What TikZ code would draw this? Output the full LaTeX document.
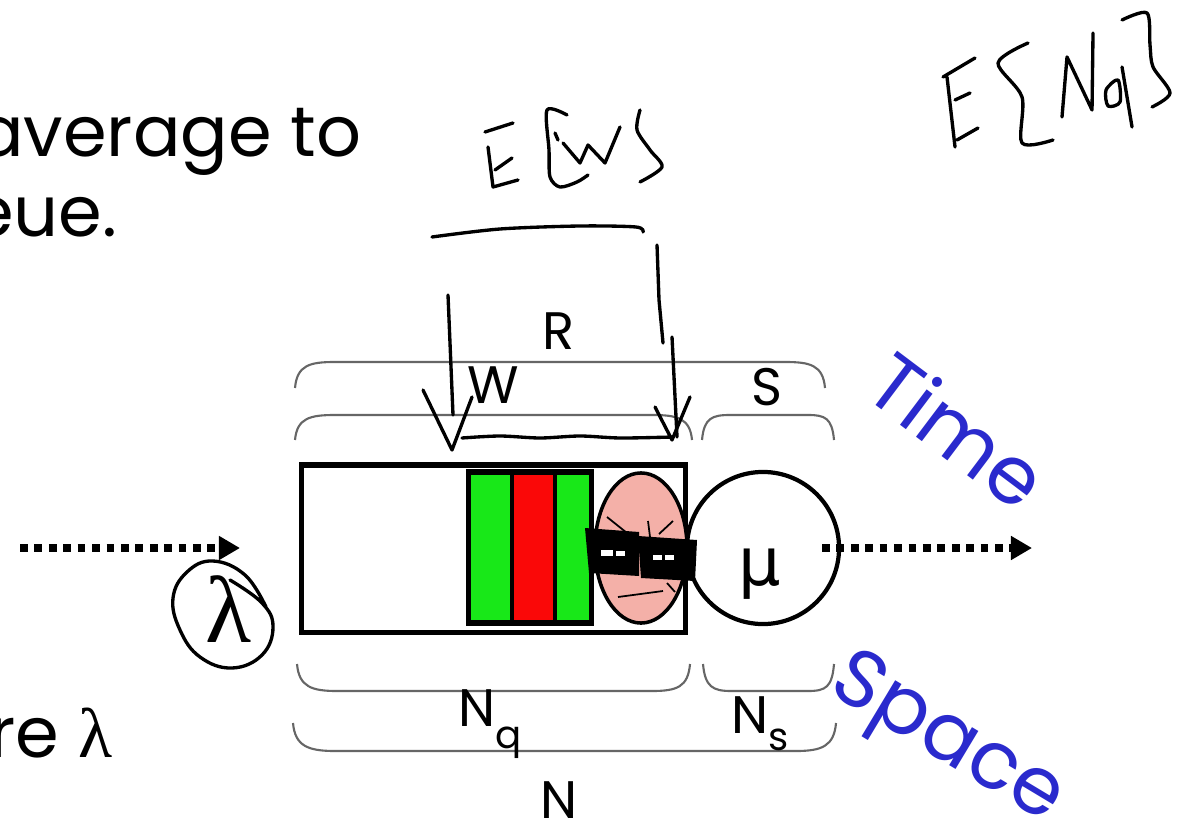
\documentclass[tikz,border=0pt]{standalone}
\usepackage{fontspec}
\usepackage{tikz}
\usetikzlibrary{arrows.meta}
\setmainfont{Poppins}
\newfontfamily\greekfont{DejaVu Sans}
\newfontfamily\lambdafont{Liberation Serif}
\definecolor{axisblue}{RGB}{42,42,205}
\definecolor{facepink}{RGB}{244,176,168}
\definecolor{slotgreen}{RGB}{24,232,24}
\definecolor{slotred}{RGB}{250,8,8}
\tikzset{
    brace-line/.style = {draw=black!60, line width=0.6pt},
    hand-stroke/.style = {draw=black, line width=0.95pt, line cap=round, line join=round},
    flow-arrow/.style = {line width=2.2pt, dash pattern=on 2.2pt off 1.9pt, -{Triangle[length=6pt,width=6.5pt]}},
    slide-text/.style = {font=\fontsize{20}{24}\selectfont, inner sep=0pt},
    brace-label/.style = {font=\fontsize{15}{18}\selectfont, inner sep=0pt},
    axis-label/.style = {font=\fontsize{23}{27}\selectfont, text=axisblue, inner sep=0pt},
}

\begin{document}
\begin{tikzpicture}[x=0.01cm, y=-0.01cm]
\useasboundingbox (0,0) rectangle (1180,825);
\fill[white] (0,0) rectangle (1180,825);

\node[slide-text, anchor=base east] (line1) at (362,157) {average to};
\node[slide-text, anchor=base east] (line2) at (118,237) {eue.};
\node[slide-text, anchor=base east] (line3) at (113,757) {re \lambdafont λ};

% queue with waiting jobs
\node[draw, line width=1.45pt, minimum width=3.83cm, minimum height=1.67cm, inner sep=0pt] (queue) at (493.5,548.5) {};
\fill[black] (466,469) rectangle (594,626);
\fill[slotgreen] (471,475) rectangle (510,620);
\fill[slotred] (514,475) rectangle (553,620);
\fill[slotgreen] (557,475) rectangle (589,620);

\draw[fill=facepink, line width=1pt] (641,548) ellipse [x radius=0.46cm, y radius=0.75cm];
\node[draw, circle, line width=1.2pt, minimum size=1.52cm, inner sep=0pt] (server) at (763,548) {};
\node[inner sep=0pt, font=\greekfont\fontsize{19}{22}\selectfont] (mu) at (760,574) {μ};

% the grumpy face
\fill[black] (585,528) -- (639,532) -- (639,576) -- (589,573) -- cycle;
\fill[black] (638,536) -- (697,540) -- (695,581) -- (641,578) -- cycle;
\fill[white] (601,550) rectangle (613,556);
\fill[white] (616,551) rectangle (625,556);
\fill[white] (653,555) rectangle (662,560);
\fill[white] (665,555) rectangle (674,560);
\draw[line width=0.5pt] (607,517) -- (627,533) (673,521) -- (659,534) (648,521) -- (650,537);
\draw[line width=0.5pt] (618,597) -- (663,591) (667,583) -- (675,592);

\coordinate (in-start) at (20,548);
\coordinate (in-end) at (240,548);
\coordinate (out-start) at (822,548);
\coordinate (out-end) at (1032,548);
\draw[flow-arrow] (in-start) -- (in-end);
\draw[flow-arrow] (out-start) -- (out-end);

% time braces
\draw[brace-line] (295,388) .. controls (297,365) and (310,362) .. (335,362) -- (785,362) .. controls (810,362) and (823,365) .. (825,388);
\draw[brace-line] (295,440) .. controls (297,418) and (310,415) .. (335,415) -- (652,415) .. controls (677,415) and (690,418) .. (692,440);
\draw[brace-line] (702,440) .. controls (704,418) and (712,415) .. (730,415) -- (808,415) .. controls (825,415) and (832,418) .. (834,440);
\node[brace-label] (lab-r) at (559,331) {R};
\node[brace-label] (lab-w) at (493,385) {W};
\node[brace-label] (lab-s) at (767,387) {S};

% space braces
\draw[brace-line] (297,664) .. controls (299,687) and (312,691) .. (337,691) -- (652,691) .. controls (677,691) and (688,687) .. (690,664);
\draw[brace-line] (703,664) .. controls (705,687) and (713,691) .. (731,691) -- (808,691) .. controls (826,691) and (832,687) .. (834,664);
\draw[brace-line] (293,723) .. controls (295,746) and (308,751) .. (335,751) -- (796,751) .. controls (822,751) and (834,746) .. (836,723);
\node[brace-label] (lab-nq) at (490,724) {N\raisebox{-0.42em}{\fontsize{11}{12}\selectfont q}};
\node[brace-label] (lab-ns) at (760,724) {N\raisebox{-0.32em}{\fontsize{11}{12}\selectfont s}};
\node[brace-label] (lab-n) at (559,800) {N};

\node[axis-label, rotate=-37] (time) at (958,430) {Time};
\node[axis-label, rotate=-31] (space) at (946,742) {Space};

% pen notes
\draw[hand-stroke] plot[smooth, tension=0.7] coordinates {(230,580) (262,603) (273,627) (262,655) (232,668) (200,657) (180,630) (173,598) (187,572) (213,561) (245,575) (266,607)};
\node[inner sep=0pt, font=\lambdafont\fontsize{27}{30}\selectfont] (lambda) at (229,609) {λ};

\draw[hand-stroke] (485,132) -- (513,123) (488,147) -- (493,187) -- (518,180) (495,170) -- (512,158);
\draw[hand-stroke] plot[smooth] coordinates {(567,115) (547,110) (549,150) (550,177) (560,187) (577,182) (588,175)};
\draw[hand-stroke] (555,133) -- (558,140);
\draw[hand-stroke] (563,143) -- (580,163) -- (588,145) -- (605,163) -- (620,127);
\draw[hand-stroke] plot[smooth] coordinates {(640,110) (637,130) (650,150) (662,167) (640,182)};

\draw[hand-stroke] plot[smooth] coordinates {(432,237) (500,229) (580,226) (636,227) (643,232)};
\draw[hand-stroke] (448,295) -- (453,415);
\draw[hand-stroke] (423,390) -- (452,450) -- (472,397);
\draw[hand-stroke] plot[smooth] coordinates {(462,438) (500,436) (540,438) (580,436) (620,438) (673,437)};
\draw[hand-stroke] (657,245) -- (659,300) -- (663,343);
\draw[hand-stroke] (672,337) -- (677,437);
\draw[hand-stroke] (655,407) -- (672,440) -- (690,397);

\draw[hand-stroke] (943,77) -- (975,58) (947,77) -- (955,147) (955,100) -- (970,93) (957,140) -- (978,128);
\draw[hand-stroke] plot[smooth] coordinates {(1028,43) (998,63) (1022,97) (1022,143) (1053,140)};
\draw[hand-stroke] (1062,117) -- (1067,57) -- (1092,110) -- (1093,33);
\draw[hand-stroke] plot[smooth cycle] coordinates {(1118,80) (1106,90) (1108,106) (1120,102)};
\draw[hand-stroke] (1122,67) -- (1132,127);
\draw[hand-stroke] plot[smooth] coordinates {(1122,20) (1147,13) (1150,45) (1153,67) (1170,93) (1152,107)};
\end{tikzpicture}
\end{document}
